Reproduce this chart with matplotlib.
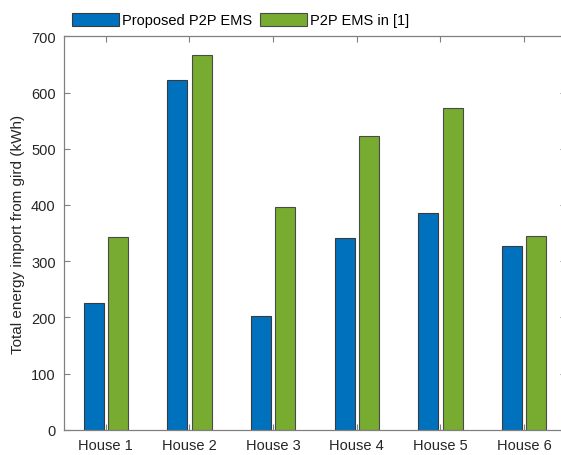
import numpy as np
import matplotlib.pyplot as plt

houses = ['House 1', 'House 2', 'House 3', 'House 4', 'House 5', 'House 6']
proposed = [226, 622, 202, 341, 385, 327]
reference = [343, 666, 397, 522, 573, 345]
series_names = ['Proposed P2P EMS', 'P2P EMS in [1]']

plt.rcParams['font.family'] = ['Liberation Sans', 'DejaVu Sans']

fig = plt.figure(figsize=(5.61, 4.56), dpi=100)
ax = fig.add_axes([64 / 561, 25.3 / 456, 502 / 561, 393.4 / 456])

x = np.arange(1, len(houses) + 1)
w = 0.24
off = 0.145
b1 = ax.bar(x - off, proposed, w, color='#0072BD', edgecolor='#3a3a3a', linewidth=0.8,
            label=series_names[0])
b2 = ax.bar(x + off, reference, w, color='#77AC30', edgecolor='#4a4a4a', linewidth=0.8,
            label=series_names[1])

ax.set_xlim(0.5, 6.5)
ax.set_ylim(0, 700)
ax.set_xticks(x)
ax.set_xticklabels(houses)
ax.set_yticks(np.arange(0, 701, 100))
ax.tick_params(direction='in', length=4, width=0.8, colors='#808080',
               labelcolor='#262626', labelsize=10.5, top=True, right=True, pad=6)
for s in ax.spines.values():
    s.set_color('#808080')
    s.set_linewidth(0.9)

ax.set_ylabel('Total energy import from gird (kWh)', fontsize=11, color='#262626', labelpad=4)

fig.legend(handles=[b1, b2], labels=series_names, loc='center left',
           bbox_to_anchor=(72 / 561, 1 - 21 / 456), ncol=2, frameon=False,
           fontsize=10.5, handlelength=3.2, handleheight=1.0, handletextpad=0.2,
           columnspacing=0.6, borderaxespad=0, borderpad=0)

fig.savefig('out.png', dpi=100)
